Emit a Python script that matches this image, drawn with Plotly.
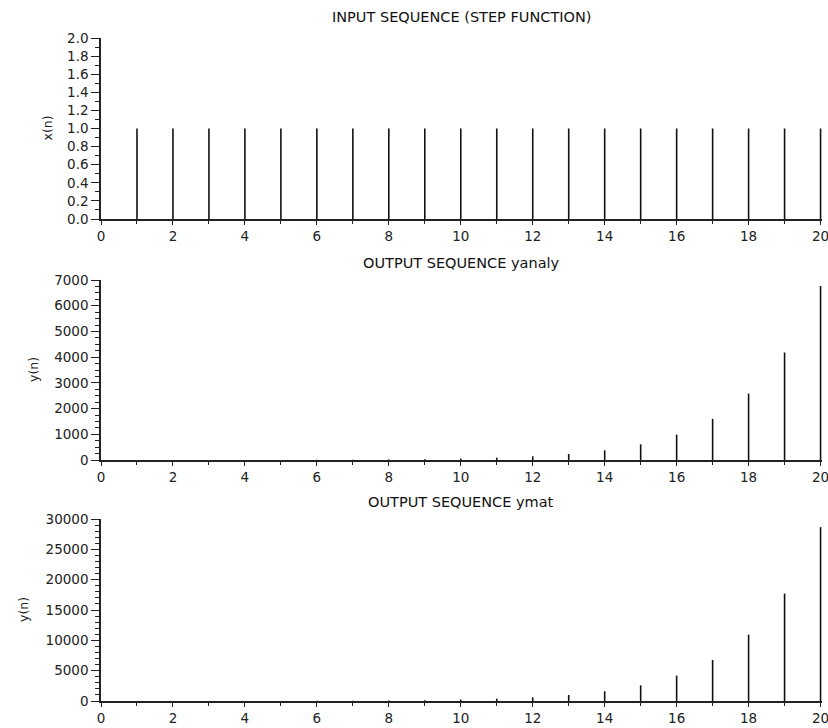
import plotly.graph_objects as go

# ---- data ----
n_input = list(range(1, 21))
x_input = [1] * 20

n_out = list(range(0, 21))
y_analy = [0, 1, 1, 2, 3, 5, 8, 13, 21, 34, 55, 89, 144, 233, 377, 610, 987,
           1597, 2584, 4181, 6765]
y_mat = [1, 2, 4, 7, 12, 20, 33, 54, 88, 143, 232, 376, 609, 986, 1596, 2583,
         4180, 6764, 10945, 17710, 28656]

titles = ["INPUT SEQUENCE (STEP FUNCTION)", "OUTPUT SEQUENCE yanaly", "OUTPUT SEQUENCE ymat"]
ylabels = ["x(n)", "y(n)", "y(n)"]

W, H = 828, 728
FONT = "DejaVu Sans, Verdana, sans-serif"


def stems(xs, ys):
    sx, sy = [], []
    for a, b in zip(xs, ys):
        sx += [a, a, None]
        sy += [0, b, None]
    return sx, sy


fig = go.Figure()

panels = [
    (n_input, x_input, (38, 219), [0, 2], 0.2, 0.1, ".1f", 47, 17),
    (n_out, y_analy, (280, 460), [0, 7000], 1000, 250, "d", 33, 263),
    (n_out, y_mat, (519, 701), [0, 30000], 5000, 1000, "d", 23, 502),
]

x0p, x1p = 101, 822
for i, (xs, ys, (top, bot), yr, dt, mdt, fmt, labx, ty) in enumerate(panels):
    k = "" if i == 0 else str(i + 1)
    sx, sy = stems(xs, ys)
    fig.add_trace(go.Scatter(x=sx, y=sy, mode="lines",
                             line=dict(color="#111111", width=1.6),
                             xaxis="x" + k, yaxis="y" + k, showlegend=False,
                             hoverinfo="skip"))
    xdom = [x0p / W, x1p / W]
    ydom = [1 - bot / H, 1 - top / H]
    fig.layout["xaxis" + k] = dict(
        domain=xdom, anchor="y" + k, range=[0, 20.04], dtick=2, tick0=0,
        automargin=False, ticklabeloverflow="allow",
        showline=True, linecolor="#222", linewidth=1.5, mirror=False,
        ticks="outside", ticklen=4, tickcolor="#222", tickwidth=1.3,
        minor=dict(dtick=1, ticklen=3, tickcolor="#222", ticks="outside"),
        showgrid=False, zeroline=False,
        tickfont=dict(family=FONT, size=13.5, color="#222"))
    fig.layout["yaxis" + k] = dict(
        domain=ydom, anchor="x" + k, range=yr, dtick=dt, tick0=0,
        tickformat=fmt, automargin=False, ticklabeloverflow="allow",
        showline=True, linecolor="#222", linewidth=1.5,
        ticks="outside", ticklen=8, tickcolor="#222", tickwidth=1.3,
        minor=dict(dtick=mdt, ticklen=4, tickcolor="#222", ticks="outside"),
        showgrid=False, zeroline=False,
        tickfont=dict(family=FONT, size=13.5, color="#222"))
    fig.add_annotation(text=titles[i], x=461 / W, y=1 - ty / H,
                       xref="paper", yref="paper", showarrow=False,
                       xanchor="center", yanchor="middle",
                       font=dict(family=FONT, size=14.5, color="#111"))
    fig.add_annotation(text=ylabels[i], x=labx / W, y=1 - ((top + bot) / 2) / H,
                       xref="paper", yref="paper", showarrow=False,
                       textangle=-90, xanchor="center", yanchor="middle",
                       font=dict(family=FONT, size=12.5, color="#222"))

fig.update_layout(width=W, height=H, margin=dict(l=0, r=0, t=0, b=0),
                  plot_bgcolor="white", paper_bgcolor="white")

fig.write_html("out.html")
